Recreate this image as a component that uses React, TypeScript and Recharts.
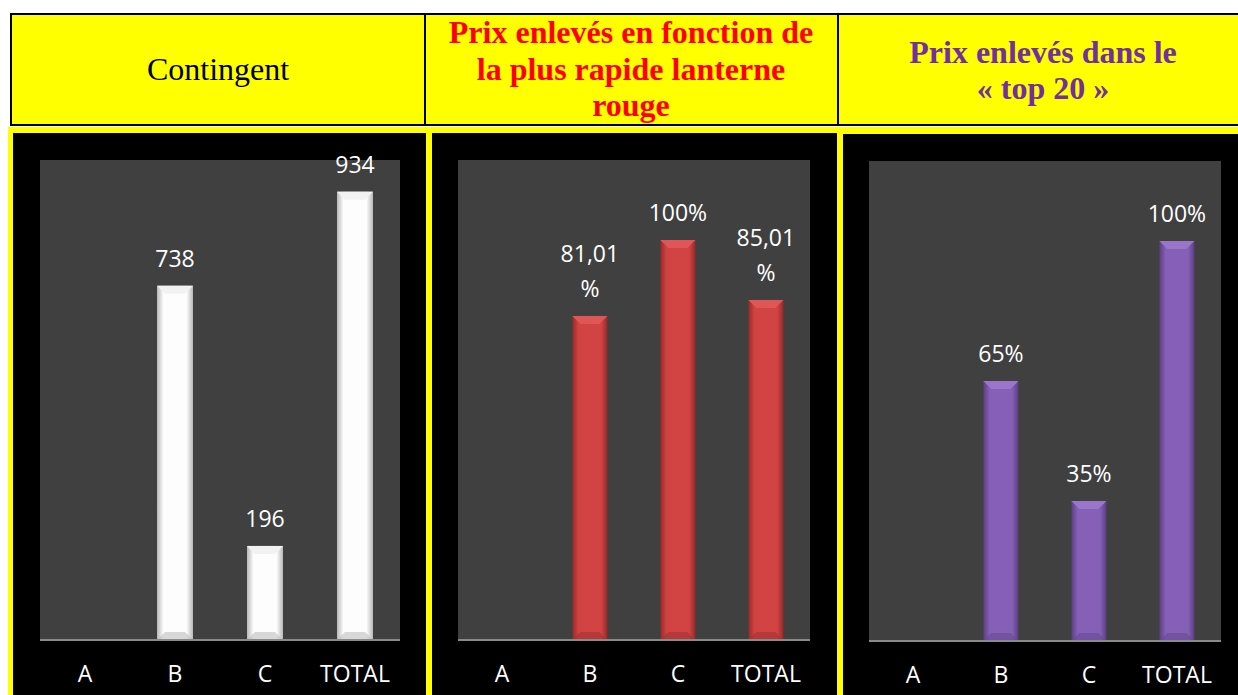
import React from "react";
import { BarChart, Bar, XAxis, YAxis, CartesianGrid, LabelList } from "recharts";

const categories = ["A", "B", "C", "TOTAL"];
const contingentValues: (number | null)[] = [null, 738, 196, 934];
const lanterneValues: (number | null)[] = [null, 0.8101, 1, 0.8501];
const top20Values: (number | null)[] = [null, 0.65, 0.35, 1];

const headerContingent = ["Contingent"];
const headerLanterne = ["Prix enlevés en fonction de", "la plus rapide lanterne", "rouge"];
const headerTop20 = ["Prix enlevés dans le", "« top 20 »"];

const buildData = (vals: (number | null)[]) =>
  categories.map((c, i) => ({ name: c, value: vals[i] }));

const FONT = "'Open Sans', sans-serif";

type Palette = { id: string; edge: string; center: string; bevel: string; bottom: string };

const whitePal: Palette = { id: "gw", edge: "#b8b8b8", center: "#fdfdfd", bevel: "#f2f2f2", bottom: "#c0c0c0" };
const redPal: Palette = { id: "gr", edge: "#962a2a", center: "#d24444", bevel: "#e05656", bottom: "#a33232" };
const purplePal: Palette = { id: "gp", edge: "#5a3f84", center: "#8560b6", bevel: "#9a76ca", bottom: "#674a92" };

const Grad = ({ p }: { p: Palette }) => (
  <defs>
    <linearGradient id={p.id} x1="0" y1="0" x2="1" y2="0">
      <stop offset="0%" stopColor={p.edge} />
      <stop offset="18%" stopColor={p.center} />
      <stop offset="82%" stopColor={p.center} />
      <stop offset="100%" stopColor={p.edge} />
    </linearGradient>
  </defs>
);

const makeShape = (p: Palette) => (props: any) => {
  const { x, y, width, height } = props;
  if (height == null || height <= 0) return <g />;
  const b = Math.min(8, height / 2);
  return (
    <g>
      <rect x={x} y={y} width={width} height={height} fill={`url(#${p.id})`} />
      <polygon
        points={`${x},${y} ${x + width},${y} ${x + width - b},${y + b} ${x + b},${y + b}`}
        fill={p.bevel}
      />
      <polygon
        points={`${x},${y + height} ${x + width},${y + height} ${x + width - b},${y + height - b} ${x + b},${y + height - b}`}
        fill={p.bottom}
        opacity={0.6}
      />
    </g>
  );
};

const fmtInt = (v: number) => [String(v)];
const fmtPct = (v: number) => {
  const pct = Math.round(v * 10000) / 100;
  if (Number.isInteger(pct)) return [pct + "%"];
  return [pct.toFixed(2).replace(".", ","), "%"];
};

const makeLabel = (fmt: (v: number) => string[]) => (props: any) => {
  const { x, y, width, value } = props;
  if (value == null) return null;
  const lines = fmt(value);
  const cx = x + width / 2;
  const n = lines.length;
  return (
    <g>
      {lines.map((l, i) => (
        <text
          key={i}
          x={cx}
          y={y - 28 - (n - 1 - i) * 35}
          textAnchor="middle"
          dominantBaseline="central"
          fill="#ffffff"
          fontSize={23}
          fontFamily={FONT}
        >
          {l}
        </text>
      ))}
    </g>
  );
};

const Tick = (props: any) => {
  const { x, y, payload } = props;
  return (
    <text x={x} y={y + 33} textAnchor="middle" dominantBaseline="central" fill="#ffffff" fontSize={23} fontFamily={FONT}>
      {payload.value}
    </text>
  );
};

type PanelProps = {
  left: number;
  top: number;
  width: number;
  height: number;
  margin: { top: number; left: number; right: number; bottom: number };
  axisH: number;
  data: any[];
  domain: [number, number];
  pal: Palette;
  fmt: (v: number) => string[];
};

const Panel = ({ left, top, width, height, margin, axisH, data, domain, pal, fmt }: PanelProps) => (
  <div style={{ position: "absolute", left, top, width, height }}>
    <BarChart width={width} height={height} data={data} margin={margin} barCategoryGap="30%">
      <Grad p={pal} />
      <CartesianGrid horizontal={false} vertical={false} fill="#404040" fillOpacity={1} stroke="none" />
      <XAxis
        dataKey="name"
        height={axisH}
        tickLine={false}
        tickSize={0}
        tickMargin={0}
        axisLine={{ stroke: "#8a8a8a", strokeWidth: 2 }}
        tick={<Tick />}
        interval={0}
      />
      <YAxis hide domain={domain} />
      <Bar dataKey="value" isAnimationActive={false} shape={makeShape(pal)}>
        <LabelList dataKey="value" content={makeLabel(fmt)} />
      </Bar>
    </BarChart>
  </div>
);

const SERIF = "'Liberation Serif', 'Times New Roman', serif";

export default function App() {
  return (
    <div style={{ position: "fixed", left: 0, top: 0, width: 1238, height: 695, background: "#ffffff", overflow: "hidden" }}>
      <svg width={1238} height={695} style={{ position: "absolute", left: 0, top: 0 }}>
        <rect x={11} y={14} width={1240} height={111} fill="#ffff00" stroke="#000" strokeWidth={2} />
        <line x1={425} y1={14} x2={425} y2={125} stroke="#000" strokeWidth={2} />
        <line x1={838} y1={14} x2={838} y2={125} stroke="#000" strokeWidth={2} />
        <rect x={8} y={127} width={1240} height={570} fill="#ffff00" />
        <rect x={13} y={133} width={413} height={570} fill="#000" />
        <rect x={432} y={133} width={405} height={570} fill="#000" />
        <rect x={843} y={134} width={400} height={570} fill="#000" />
        {headerContingent.map((t, i) => (
          <text key={i} x={218} y={80} textAnchor="middle" fontFamily={SERIF} fontSize={32} fill="#000">
            {t}
          </text>
        ))}
        {headerLanterne.map((t, i) => (
          <text key={i} x={631} y={43 + i * 36.5} textAnchor="middle" fontFamily={SERIF} fontSize={32} fontWeight="bold" fill="#ff0000">
            {t}
          </text>
        ))}
        {headerTop20.map((t, i) => (
          <text key={i} x={1043} y={63 + i * 36} textAnchor="middle" fontFamily={SERIF} fontSize={32} fontWeight="bold" fill="#7030a0">
            {t}
          </text>
        ))}
      </svg>
      <Panel
        left={13}
        top={133}
        width={413}
        height={562}
        margin={{ top: 27, left: 27, right: 26, bottom: 0 }}
        axisH={55}
        data={buildData(contingentValues)}
        domain={[0, 1000]}
        pal={whitePal}
        fmt={fmtInt}
      />
      <Panel
        left={432}
        top={133}
        width={405}
        height={562}
        margin={{ top: 27, left: 26, right: 27, bottom: 0 }}
        axisH={55}
        data={buildData(lanterneValues)}
        domain={[0, 1.2]}
        pal={redPal}
        fmt={fmtPct}
      />
      <Panel
        left={843}
        top={134}
        width={395}
        height={561}
        margin={{ top: 27, left: 26, right: 17, bottom: 0 }}
        axisH={54}
        data={buildData(top20Values)}
        domain={[0, 1.2]}
        pal={purplePal}
        fmt={fmtPct}
      />
    </div>
  );
}
